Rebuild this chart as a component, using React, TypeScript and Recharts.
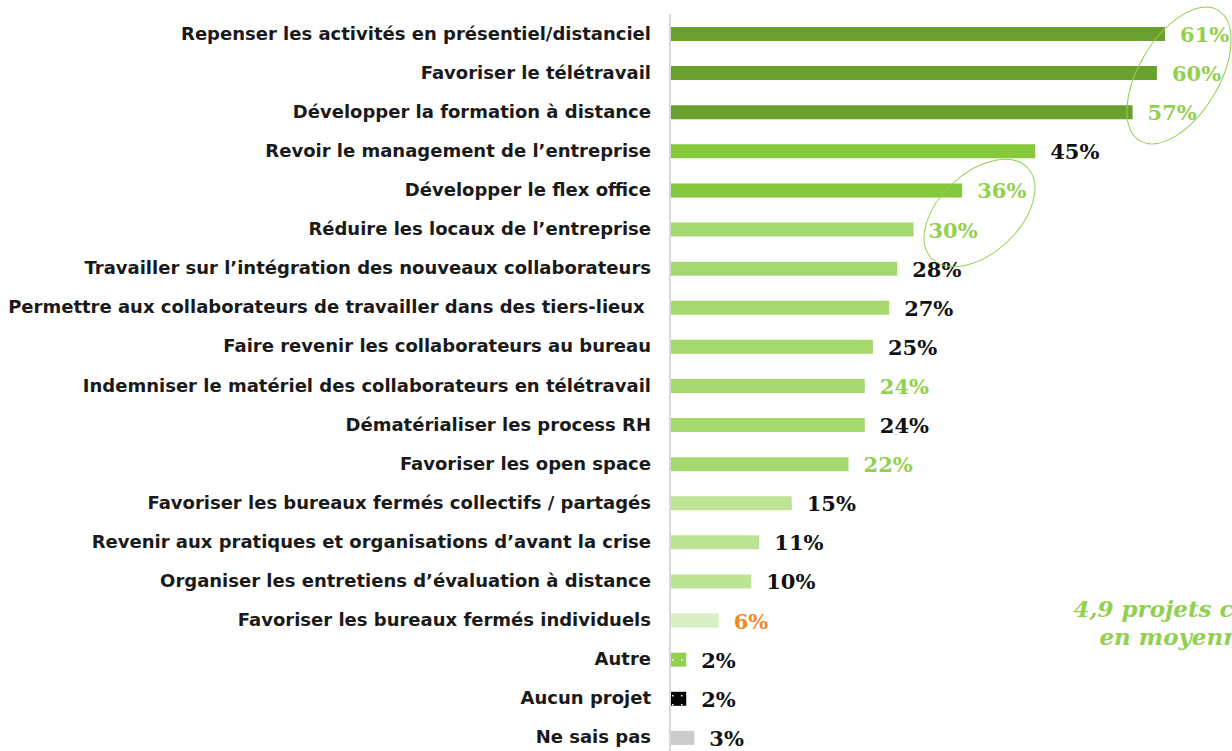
import { BarChart, Bar, XAxis, YAxis, Cell, LabelList } from 'recharts';

/* ── Data ─────────────────────────────────────────────────────────────── */

const CATEGORIES = [
  'Repenser les activités en présentiel/distanciel',
  'Favoriser le télétravail',
  'Développer la formation à distance',
  'Revoir le management de l’entreprise',
  'Développer le flex office',
  'Réduire les locaux de l’entreprise',
  'Travailler sur l’intégration des nouveaux collaborateurs',
  'Permettre aux collaborateurs de travailler dans des tiers-lieux ',
  'Faire revenir les collaborateurs au bureau',
  'Indemniser le matériel des collaborateurs en télétravail',
  'Dématérialiser les process RH',
  'Favoriser les open space',
  'Favoriser les bureaux fermés collectifs / partagés',
  'Revenir aux pratiques et organisations d’avant la crise',
  'Organiser les entretiens d’évaluation à distance',
  'Favoriser les bureaux fermés individuels',
  'Autre',
  'Aucun projet',
  'Ne sais pas',
];

const VALUES = [61, 60, 57, 45, 36, 30, 28, 27, 25, 24, 24, 22, 15, 11, 10, 6, 2, 2, 3];

const AVG_NOTE = ['4,9 projets cités', 'en moyenne'];

/* ── Palette ──────────────────────────────────────────────────────────── */

const DARK   = '#6aa12e';
const MID    = '#86c83b';
const LIGHT  = '#a5d86e';
const PALE   = '#bde394';
const PALEST = '#d9efc6';
const LIME   = '#92d050';
const ORANGE = '#ef8a22';
const INK    = '#111111';
const AXIS   = '#d9d9d9';

const BAR_FILLS = [
  DARK, DARK, DARK, MID, MID,
  LIGHT, LIGHT, LIGHT, LIGHT, LIGHT, LIGHT, LIGHT,
  PALE, PALE, PALE, PALEST,
  'url(#dotsGreen)', 'url(#dotsBlack)', '#cbcbcb',
];

const LABEL_COLORS = [
  LIME, LIME, LIME, INK, LIME, LIME, INK, INK, INK, LIME,
  INK, LIME, INK, INK, INK, ORANGE, INK, INK, INK,
];

const rows = CATEGORIES.map((name, i) => ({ name, value: VALUES[i] }));

/* ── Ticks & labels ───────────────────────────────────────────────────── */

function CategoryTick({ x, y, payload }: any) {
  return (
    <text
      x={x}
      y={y}
      dy={6}
      textAnchor="end"
      fill="#1a1a1a"
      style={{ fontFamily: "'DejaVu Sans', sans-serif", fontWeight: 700, fontSize: 18, whiteSpace: 'pre' }}
    >
      {payload.value}
    </text>
  );
}

function ValueLabel({ x, y, width, height, value, index }: any) {
  return (
    <text
      x={Number(x) + Number(width) + 15}
      y={Number(y) + Number(height) / 2}
      dy={8}
      fill={LABEL_COLORS[index]}
      style={{ fontFamily: "'DejaVu Serif', Georgia, serif", fontWeight: 700, fontSize: 21 }}
    >
      {value}%
    </text>
  );
}

/* ── Page ─────────────────────────────────────────────────────────────── */

export default function App() {
  return (
    <div style={{ position: 'absolute', left: 0, top: 0, width: 1232, height: 751, overflow: 'hidden', background: '#fff' }}>
      <svg width={0} height={0} style={{ position: 'absolute' }}>
        <defs>
          <pattern id="dotsGreen" width="9" height="9" patternUnits="userSpaceOnUse">
            <rect width="9" height="9" fill={LIME} />
            <rect x="6" y="2" width="1.5" height="1.5" fill="#fff" />
          </pattern>
          <pattern id="dotsBlack" width="9" height="9" patternUnits="userSpaceOnUse">
            <rect width="9" height="9" fill="#000" />
            <rect x="6" y="2" width="1.5" height="1.5" fill="#fff" />
          </pattern>
        </defs>
      </svg>

      <BarChart
        width={1232}
        height={757}
        data={rows}
        layout="vertical"
        margin={{ top: 14, right: 2, bottom: 0, left: 0 }}
      >
        <XAxis type="number" domain={[0, 69]} hide />
        <YAxis
          type="category"
          dataKey="name"
          width={670}
          axisLine={{ stroke: AXIS, strokeWidth: 2 }}
          tickLine={false}
          tickMargin={13}
          interval={0}
          tick={<CategoryTick />}
        />
        <Bar dataKey="value" barSize={14} isAnimationActive={false}>
          {rows.map((_, i) => (
            <Cell key={i} fill={BAR_FILLS[i]} />
          ))}
          <LabelList dataKey="value" content={<ValueLabel />} />
        </Bar>
      </BarChart>

      <svg width={1232} height={751} style={{ position: 'absolute', left: 0, top: 0, pointerEvents: 'none' }}>
        <ellipse cx={1179} cy={75.5} rx={40} ry={76} fill="none" stroke={LIME} strokeWidth={1} transform="rotate(31 1179 75.5)" />
        <ellipse cx={979.5} cy={213} rx={40} ry={66} fill="none" stroke={LIME} strokeWidth={1} transform="rotate(47 979.5 213)" />
        <text
          textAnchor="middle"
          fill={LIME}
          style={{ fontFamily: "'DejaVu Serif', Georgia, serif", fontWeight: 700, fontStyle: 'italic', fontSize: 23 }}
        >
          <tspan x={1177} y={617}>{AVG_NOTE[0]}</tspan>
          <tspan x={1177} y={645}>{AVG_NOTE[1]}</tspan>
        </text>
      </svg>
    </div>
  );
}
